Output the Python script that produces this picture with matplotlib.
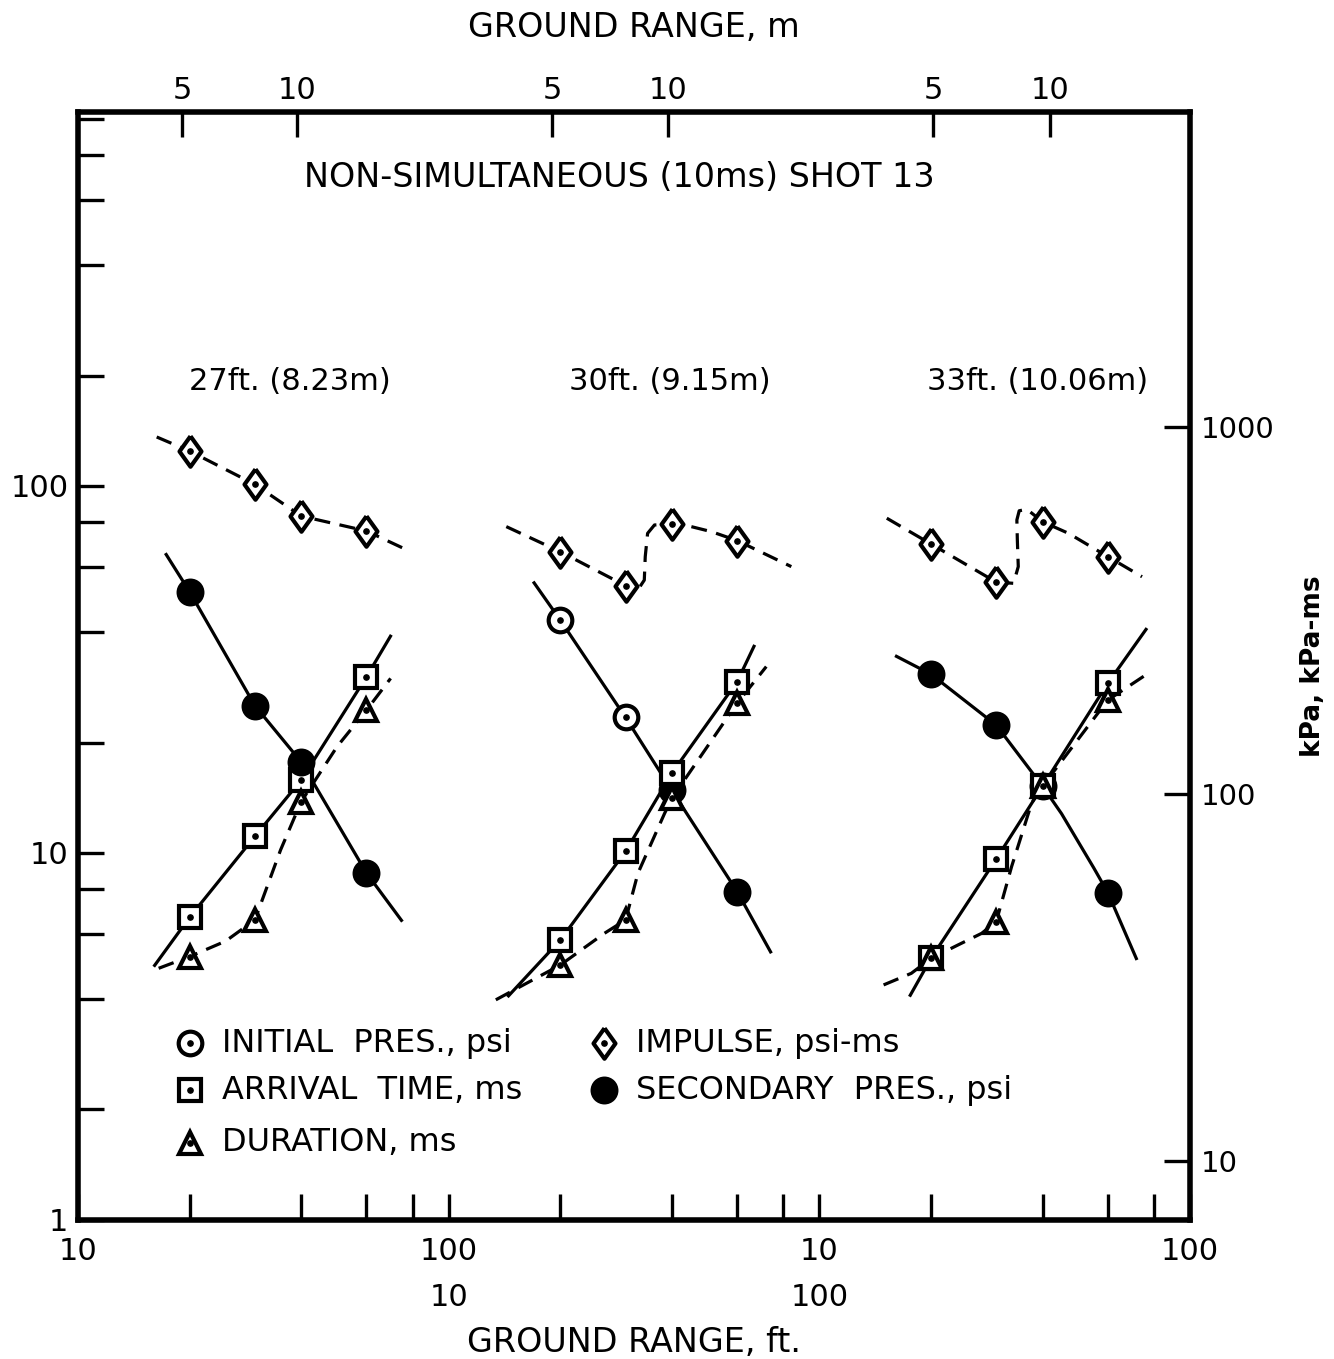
import numpy as np
import matplotlib.pyplot as plt
from matplotlib.ticker import FixedLocator, FixedFormatter, NullFormatter, NullLocator

plt.rcParams['font.family'] = ['DejaVu Sans']

KPA_PER_PSI = 6.895

# gauge ground ranges (ft), same for all three shots
gauge_ft = [20, 30, 40, 60]

# ---- 27 ft. (8.23 m) ----
s27_impulse = [124.5, 101, 82.8, 75.4]
s27_secondary = [51.5, 25.2, 17.7, 8.82]
s27_arrival = [6.68, 11.1, 15.8, 30.2]
s27_duration = [5.22, 6.57, 13.8, 24.5]
# faired curves
s27_imp_ft = [16.3, 20, 30, 40, 60, 79]
s27_imp_val = [136, 124.5, 101, 82.8, 75.4, 66.2]
s27_sec_ft = [17.2, 20, 30, 40, 60, 75]
s27_sec_val = [65.6, 51.5, 25.2, 17.7, 8.82, 6.5]
s27_arr_ft = [16.0, 20, 30, 40, 60, 70]
s27_arr_val = [4.9, 6.68, 11.1, 15.8, 30.2, 39.3]
s27_dur_ft = [16.5, 20, 25.0, 30, 35.2, 40, 50, 60, 69.7]
s27_dur_val = [4.85, 5.22, 5.75, 6.57, 10.2, 13.8, 19.5, 24.5, 29.9]

# ---- 30 ft. (9.15 m) ----
s30_impulse = [66.2, 53.5, 78.7, 71.0]
s30_initial_ft = [20, 30]
s30_initial = [43.1, 23.4]
s30_secondary_ft = [40, 60]
s30_secondary = [14.8, 7.85]
s30_arrival = [5.79, 10.1, 16.5, 29.3]
s30_duration = [4.95, 6.57, 14.1, 25.6]
s30_imp_ft = [14.3, 20, 30, 32.0, 33.7, 33.9, 34.4, 35.9, 40, 45.1, 51.1, 60, 84]
s30_imp_val = [77.5, 66.2, 53.5, 51.2, 55.4, 64.2, 74.3, 78.3, 78.7, 77.5, 75.1, 71.0, 60.3]
s30_pres_ft = [16.9, 20, 30, 40, 60, 74.2]
s30_pres_val = [54.9, 43.1, 23.4, 14.8, 7.85, 5.33]
s30_arr_ft = [14.4, 20, 30, 40, 60, 66.9]
s30_arr_val = [4.05, 5.79, 10.1, 16.5, 29.3, 36.9]
s30_dur_ft = [13.4, 20, 26.3, 30, 32.4, 38.2, 40, 60, 71.9]
s30_dur_val = [3.98, 4.95, 6.04, 6.57, 8.81, 12.8, 14.1, 25.6, 32.2]

# ---- 33 ft. (10.06 m) ----
s33_impulse = [69.5, 54.7, 79.9, 64.2]
s33_secondary = [30.7, 22.3, 15.2, 7.8]
s33_arrival = [5.16, 9.63, 15.2, 29.0]
s33_duration = [5.16, 6.50, 15.2, 26.1]
s33_imp_ft = [15.2, 20, 30, 33.4, 34.4, 34.2, 34.1, 34.6, 36.3, 40, 47.0, 60, 74.2]
s33_imp_val = [81.7, 69.5, 54.7, 54.3, 60.3, 71.3, 80.8, 85.6, 86.4, 79.9, 74.3, 64.2, 56.6]
s33_sec_ft = [16.0, 20, 30, 40, 45, 50, 55, 60, 71.9]
s33_sec_val = [34.5, 30.7, 22.3, 15.2, 12.8, 10.7, 9.1, 7.8, 5.11]
s33_arr_ft = [17.5, 20, 30, 40, 60, 76.5]
s33_arr_val = [4.06, 5.16, 9.63, 15.2, 29.0, 41.0]
s33_dur_ft = [14.9, 17.7, 20, 23.7, 27.4, 30, 33.0, 37.4, 40, 60, 75.7]
s33_dur_val = [4.37, 4.70, 5.16, 5.62, 6.04, 6.50, 9.18, 13.7, 15.2, 26.1, 30.5]

panel_titles = ['27ft. (8.23m)', '30ft. (9.15m)', '33ft. (10.06m)']

# ground range in m on the top scale, placed where the original has them (ft)
top_tick_ft = [[19.1, 39.0], [19.0, 39.1], [20.3, 41.8]]
top_tick_labels = ['5', '10']

# each panel is one decade of ft (10-100), laid side by side on one log axis
bottom_ticks = [10, 100, 1000, 10000]
bottom_labels = ['10', '100\n10', '10\n100', '100']
y_major = [1, 10, 100]
kpa_ticks = [10, 100, 1000]

diamond = [(0, 1), (0.72, 0), (0, -1), (-0.72, 0), (0, 1)]
styles = {
    'initial': dict(marker='o', ms=17, mfc='white', mec='k', mew=3),
    'arrival': dict(marker='s', ms=16, mfc='white', mec='k', mew=3),
    'duration': dict(marker='^', ms=16.5, mfc='white', mec='k', mew=3),
    'impulse': dict(marker=diamond, ms=22, mfc='white', mec='k', mew=3),
    'secondary': dict(marker='o', ms=17.5, mfc='k', mec='k', mew=2.6),
}
dotted = ['initial', 'arrival', 'duration', 'impulse']


def shift(ft, k):
    return np.asarray(ft, dtype=float) * 10 ** k


def curve(ax, ft, val, k, dashed=False):
    ls = (0, (5, 3)) if dashed else '-'
    ax.plot(shift(ft, k), val, color='k', lw=2.3, ls=ls, zorder=2,
            solid_capstyle='butt', dash_capstyle='butt', solid_joinstyle='round')


def marks(ax, ft, val, k, kind, z=3):
    x = shift(ft, k)
    ax.plot(x, val, ls='none', zorder=z, **styles[kind])
    if kind in dotted:
        ax.plot(x, val, ls='none', marker='o', ms=3.8, color='k', zorder=z + 0.5)


fig = plt.figure(figsize=(13.34, 13.59), dpi=100)
ax = fig.add_axes([0.0585, 0.1023, 0.8336, 0.8153])
ax.set_xscale('log')
ax.set_yscale('log')
ax.set_xlim(10, 10000)
ax.set_ylim(1, 1045)

# 27 ft
k = 0
curve(ax, s27_imp_ft, s27_imp_val, k, dashed=True)
curve(ax, s27_sec_ft, s27_sec_val, k)
curve(ax, s27_arr_ft, s27_arr_val, k)
curve(ax, s27_dur_ft, s27_dur_val, k, dashed=True)
marks(ax, gauge_ft, s27_arrival, k, 'arrival', 3)
marks(ax, gauge_ft, s27_secondary, k, 'secondary', 4)
marks(ax, gauge_ft, s27_duration, k, 'duration', 5)
marks(ax, gauge_ft, s27_impulse, k, 'impulse', 3)

# 30 ft
k = 1
curve(ax, s30_imp_ft, s30_imp_val, k, dashed=True)
curve(ax, s30_pres_ft, s30_pres_val, k)
curve(ax, s30_arr_ft, s30_arr_val, k)
curve(ax, s30_dur_ft, s30_dur_val, k, dashed=True)
marks(ax, s30_secondary_ft, s30_secondary, k, 'secondary', 3)
marks(ax, s30_initial_ft, s30_initial, k, 'initial', 3)
marks(ax, gauge_ft, s30_arrival, k, 'arrival', 4)
marks(ax, gauge_ft, s30_duration, k, 'duration', 5)
marks(ax, gauge_ft, s30_impulse, k, 'impulse', 3)

# 33 ft
k = 2
curve(ax, s33_imp_ft, s33_imp_val, k, dashed=True)
curve(ax, s33_sec_ft, s33_sec_val, k)
curve(ax, s33_arr_ft, s33_arr_val, k)
curve(ax, s33_dur_ft, s33_dur_val, k, dashed=True)
marks(ax, gauge_ft, s33_secondary, k, 'secondary', 3)
marks(ax, gauge_ft, s33_arrival, k, 'arrival', 4)
marks(ax, gauge_ft, s33_duration, k, 'duration', 5)
marks(ax, gauge_ft, s33_impulse, k, 'impulse', 3)

# bottom / left axis
ax.xaxis.set_major_locator(FixedLocator(bottom_ticks))
ax.xaxis.set_major_formatter(FixedFormatter(bottom_labels))
ax.xaxis.set_minor_locator(FixedLocator([m * 10 ** d for d in range(1, 4) for m in (2, 4, 6, 8)]))
ax.xaxis.set_minor_formatter(NullFormatter())
ax.yaxis.set_major_locator(FixedLocator(y_major))
ax.yaxis.set_major_formatter(FixedFormatter([str(v) for v in y_major]))
ax.yaxis.set_minor_locator(FixedLocator([m * 10 ** d for d in range(0, 3) for m in (2, 4, 6, 8)] + [1000]))
ax.yaxis.set_minor_formatter(NullFormatter())
ax.tick_params(which='both', direction='in', length=19, width=2.4, top=False, right=False)
ax.tick_params(axis='both', labelsize=22)
ax.tick_params(axis='x', pad=12)
ax.tick_params(axis='y', pad=7)
for lab in ax.get_xticklabels():
    lab.set_linespacing(1.75)
for sp in ax.spines.values():
    sp.set_linewidth(4)
ax.set_xlabel('GROUND RANGE, ft.', fontsize=24, labelpad=10)

# top axis: ground range in m
axt = ax.twiny()
axt.set_xscale('log')
axt.set_xlim(ax.get_xlim())
top_pos = [shift(p, i)[j] for i, p in enumerate(top_tick_ft) for j in range(2)]
axt.xaxis.set_major_locator(FixedLocator(top_pos))
axt.xaxis.set_major_formatter(FixedFormatter(top_tick_labels * 3))
axt.xaxis.set_minor_locator(NullLocator())
axt.tick_params(direction='in', length=18, width=2.4, labelsize=22, pad=5)
axt.set_xlabel('GROUND RANGE, m', fontsize=24, labelpad=28)
for sp in axt.spines.values():
    sp.set_visible(False)

# right axis: kPa
axr = ax.twinx()
axr.set_yscale('log')
lo, hi = ax.get_ylim()
axr.set_ylim(lo * KPA_PER_PSI, hi * KPA_PER_PSI)
axr.yaxis.set_major_locator(FixedLocator(kpa_ticks))
axr.yaxis.set_major_formatter(FixedFormatter([str(v) for v in kpa_ticks]))
axr.yaxis.set_minor_locator(NullLocator())
axr.tick_params(direction='in', length=19, width=2.4, labelsize=21, pad=8)
axr.set_ylabel('kPa, kPa-ms', fontsize=19, fontweight='bold', labelpad=18)
for sp in axr.spines.values():
    sp.set_visible(False)

# titles inside the frame
ax.text(0.487, 0.941, 'NON-SIMULTANEOUS (10ms) SHOT 13', transform=ax.transAxes,
        ha='center', va='center', fontsize=24)
for xc, t in zip([0.1906, 0.532, 0.863], panel_titles):
    ax.text(xc, 0.757, t, transform=ax.transAxes, ha='center', va='center', fontsize=22)

# key
key = [
    ('initial', 'INITIAL  PRES., psi', 0.1007, 0.1597),
    ('arrival', 'ARRIVAL  TIME, ms', 0.1007, 0.1173),
    ('duration', 'DURATION, ms', 0.1007, 0.0695),
    ('impulse', 'IMPULSE, psi-ms', 0.473, 0.1597),
    ('secondary', 'SECONDARY  PRES., psi', 0.473, 0.1173),
]
for kind, label, kx, ky in key:
    ax.plot([kx], [ky], transform=ax.transAxes, ls='none', clip_on=False, **styles[kind])
    if kind in dotted:
        ax.plot([kx], [ky], transform=ax.transAxes, ls='none', marker='o', ms=3.8, color='k')
    ax.text(kx + 0.029, ky, label, transform=ax.transAxes, ha='left', va='center', fontsize=23)

fig.savefig('out.png', dpi=100)
